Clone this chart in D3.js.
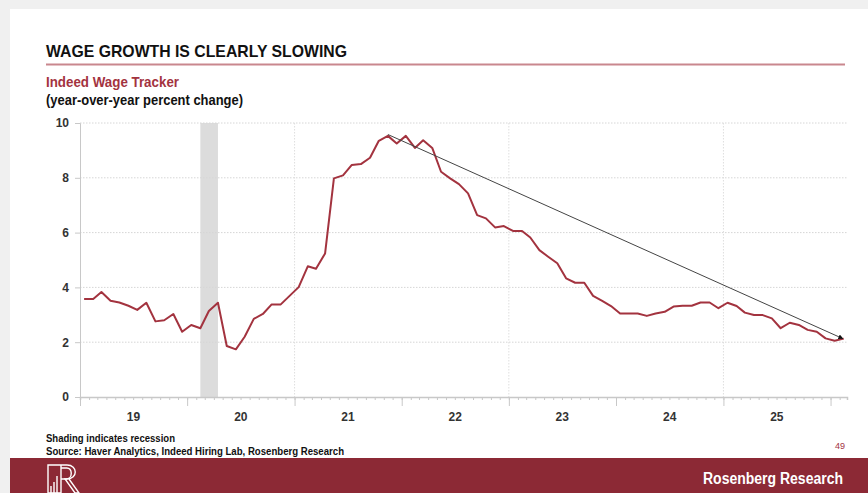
<!DOCTYPE html>
<html>
<head>
<meta charset="utf-8">
<script src="https://cdn.jsdelivr.net/npm/d3@7/dist/d3.min.js"></script>
<style>
  html, body { margin: 0; padding: 0; background: #f2f2f2; }
  svg { display: block; }
</style>
</head>
<body>
<svg id="chart" width="868" height="493"></svg>
<script>
// ---------- DATA ----------
const startYear = 2019, startMonth = 0; // Jan 2019, monthly observations
const wageValues = [
  3.58, 3.58, 3.83, 3.51, 3.45, 3.33, 3.18, 3.44, 2.76, 2.80, 3.03, 2.38,
  2.63, 2.51, 3.14, 3.44, 1.86, 1.74, 2.20, 2.85, 3.03, 3.38, 3.38, 3.69,
  4.01, 4.77, 4.68, 5.24, 7.98, 8.09, 8.47, 8.50, 8.73, 9.35, 9.53, 9.25,
  9.53, 9.09, 9.37, 9.09, 8.22, 7.98, 7.77, 7.43, 6.64, 6.52, 6.19, 6.24,
  6.06, 6.06, 5.82, 5.36, 5.12, 4.88, 4.33, 4.17, 4.17, 3.69, 3.51, 3.32,
  3.05, 3.05, 3.05, 2.96, 3.05, 3.11, 3.30, 3.33, 3.33, 3.45, 3.45, 3.24,
  3.44, 3.32, 3.08, 2.99, 2.99, 2.87, 2.51, 2.71, 2.63, 2.45, 2.38, 2.14,
  2.05, 2.13
];
const yTicks = [0, 2, 4, 6, 8, 10];
const xYearLabels = ["19", "20", "21", "22", "23", "24", "25"];
const gridYears = [2021, 2023, 2025];
const recession = ["2020-02-15", "2020-04-15"];
const trendStart = { date: "2021-11-15", value: 9.58 };
const trendEnd = { date: "2026-02-12", value: 2.13 };

const title = "WAGE GROWTH IS CLEARLY SLOWING";
const subtitle1 = "Indeed Wage Tracker";
const subtitle2 = "(year-over-year percent change)";
const note1 = "Shading indicates recession";
const note2 = "Source: Haver Analytics, Indeed Hiring Lab, Rosenberg Research";
const pageNum = "49";
const brand = "Rosenberg Research";

// ---------- SETUP ----------
const svg = d3.select("#chart");
const W = 868, H = 493;
const red = "#a3333f";
const band = "#8c2935";
const narrow = "'Liberation Sans Narrow', 'Arial Narrow', sans-serif";

// card background
svg.append("rect").attr("x", 0).attr("y", 0).attr("width", W).attr("height", H).attr("fill", "#f0f0f0");
svg.append("rect").attr("x", 10).attr("y", 9).attr("width", W - 10).attr("height", H - 9).attr("fill", "#fff");

const parse = d3.timeParse("%Y-%m-%d");
const data = wageValues.map((v, i) => ({ date: new Date(startYear, startMonth + i, 15), value: v }));

const x = d3.scaleTime()
  .domain([new Date(2019, 0, 1), new Date(2026, 1, 26)])
  .range([80, 847]);
const y = d3.scaleLinear().domain([0, 10]).range([397, 123]);

// ---------- HEADER ----------
function fitText(sel, w) {
  const len = sel.node().getComputedTextLength();
  if (len > 0) sel.attr("textLength", w).attr("lengthAdjust", "spacingAndGlyphs");
}
const t = svg.append("text").attr("x", 46).attr("y", 57)
  .attr("font-family", narrow).attr("font-weight", "bold").attr("font-size", 17)
  .attr("fill", "#111").text(title);
fitText(t, 301);
svg.append("line").attr("x1", 46).attr("x2", 845).attr("y1", 64.5).attr("y2", 64.5)
  .attr("stroke", "#c9878e").attr("stroke-width", 2);
const s1 = svg.append("text").attr("x", 46).attr("y", 87)
  .attr("font-family", narrow).attr("font-weight", "bold").attr("font-size", 14)
  .attr("fill", red).text(subtitle1);
fitText(s1, 133);
const s2 = svg.append("text").attr("x", 46).attr("y", 105)
  .attr("font-family", narrow).attr("font-weight", "bold").attr("font-size", 14)
  .attr("fill", "#111").text(subtitle2);
fitText(s2, 197);

// ---------- CHART ----------
const g = svg.append("g");

// recession shading
g.append("rect")
  .attr("x", x(parse(recession[0])))
  .attr("width", x(parse(recession[1])) - x(parse(recession[0])))
  .attr("y", y(10)).attr("height", y(0) - y(10))
  .attr("fill", "#dcdcdc");

// horizontal grid
g.selectAll(".hgrid").data(yTicks.filter(d => d > 0)).enter().append("line")
  .attr("x1", 80).attr("x2", 847)
  .attr("y1", d => y(d)).attr("y2", d => y(d))
  .attr("stroke", "#d6d6d6").attr("stroke-width", 1).attr("stroke-dasharray", "1.5,1.5");

// vertical grid
g.selectAll(".vgrid").data(gridYears).enter().append("line")
  .attr("x1", d => x(new Date(d, 0, 1))).attr("x2", d => x(new Date(d, 0, 1)))
  .attr("y1", y(10)).attr("y2", y(0))
  .attr("stroke", "#dedede").attr("stroke-width", 1).attr("stroke-dasharray", "1.5,1.5");

// y axis
const yAxis = d3.axisLeft(y).tickValues(yTicks).tickSize(5).tickPadding(6);
const ya = g.append("g").attr("transform", "translate(80,0)").call(yAxis);
ya.select(".domain").attr("stroke", "#c8c8c8");
ya.selectAll(".tick line").attr("stroke", "#c8c8c8");
ya.selectAll(".tick text").attr("font-family", "'Liberation Sans', Arial, sans-serif")
  .attr("font-weight", "bold").attr("font-size", 12).attr("fill", "#333");

// x axis: minor (monthly) ticks
const months = d3.timeMonth.range(new Date(2019, 0, 1), new Date(2026, 2, 1));
const xMinor = d3.axisBottom(x).tickValues(months).tickSize(3).tickFormat("");
const xm = g.append("g").attr("transform", "translate(0,397)").call(xMinor);
xm.select(".domain").attr("stroke", "#c8c8c8").attr("stroke-width", 1.5);
xm.selectAll(".tick line").attr("stroke", "#c8c8c8");

// x axis: major (yearly) ticks
const years = d3.timeYear.range(new Date(2019, 0, 1), new Date(2027, 0, 1)).filter(d => x(d) <= 847);
const xMajor = d3.axisBottom(x).tickValues(years).tickSize(9).tickFormat("");
const xM = g.append("g").attr("transform", "translate(0,397)").call(xMajor);
xM.select(".domain").remove();
xM.selectAll(".tick line").attr("stroke", "#c8c8c8");

// x labels centered mid-year
g.selectAll(".xlab").data(xYearLabels).enter().append("text")
  .attr("x", (d, i) => x(new Date(startYear + i, 6, 2)))
  .attr("y", 421)
  .attr("text-anchor", "middle")
  .attr("font-family", "'Liberation Sans', Arial, sans-serif")
  .attr("font-weight", "bold").attr("font-size", 12).attr("fill", "#333")
  .text(d => d);

// data line
const line = d3.line().x(d => x(d.date)).y(d => y(d.value));
g.append("path").datum(data)
  .attr("d", line)
  .attr("fill", "none").attr("stroke", red).attr("stroke-width", 2).attr("stroke-linejoin", "round");

// trend arrow
svg.append("defs").append("marker")
  .attr("id", "arrow").attr("viewBox", "0 0 10 10").attr("refX", 9).attr("refY", 5)
  .attr("markerWidth", 5).attr("markerHeight", 5).attr("orient", "auto")
  .append("path").attr("d", "M0,0 L10,5 L0,10 z").attr("fill", "#111");
g.append("line")
  .attr("x1", x(parse(trendStart.date))).attr("y1", y(trendStart.value))
  .attr("x2", x(parse(trendEnd.date))).attr("y2", y(trendEnd.value))
  .attr("stroke", "#444").attr("stroke-width", 1)
  .attr("marker-end", "url(#arrow)");

// ---------- FOOTER ----------
const n1 = svg.append("text").attr("x", 46).attr("y", 442)
  .attr("font-family", narrow).attr("font-weight", "bold").attr("font-size", 11)
  .attr("fill", "#111").text(note1);
fitText(n1, 129);
const n2 = svg.append("text").attr("x", 46).attr("y", 455)
  .attr("font-family", narrow).attr("font-weight", "bold").attr("font-size", 11)
  .attr("fill", "#111").text(note2);
fitText(n2, 298);
svg.append("text").attr("x", 845).attr("y", 449).attr("text-anchor", "end")
  .attr("font-family", "'Liberation Sans', Arial, sans-serif").attr("font-size", 9)
  .attr("fill", red).text(pageNum);

svg.append("rect").attr("x", 10).attr("y", 458).attr("width", W - 10).attr("height", H - 458).attr("fill", band);
const b = svg.append("text").attr("x", 843).attr("y", 484).attr("text-anchor", "end")
  .attr("font-family", narrow).attr("font-weight", "bold").attr("font-size", 16)
  .attr("fill", "#fff").text(brand);
fitText(b, 140);

// logo (outlined R with bar chart in stem)
const logo = svg.append("g").attr("transform", "translate(48,465)")
  .attr("fill", "none").attr("stroke", "#fff").attr("stroke-width", 1.4)
  .attr("stroke-linejoin", "miter");
logo.append("path").attr("d", "M0,28 V0 H19 C30,0 30,14 19,14 H17 L27,28 H31 L21,14");
logo.append("path").attr("d", "M13,0 V28 H0");
logo.append("path").attr("d", "M3,28 V21 M6,28 V17 M9,28 V11 M13,14 H18 C25,14 25,2 18,3 H13");
</script>
</body>
</html>
